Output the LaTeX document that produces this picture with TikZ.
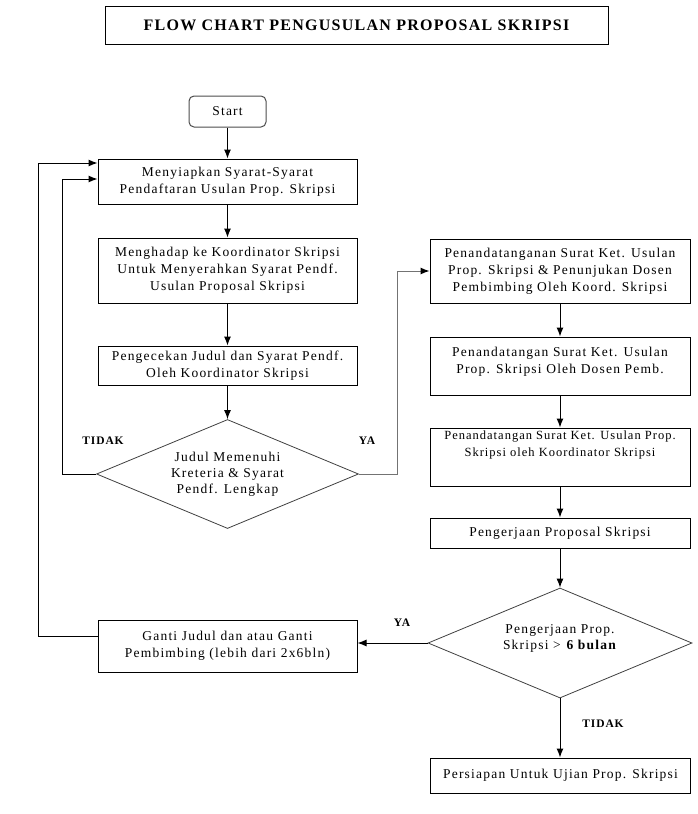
\documentclass[tikz,border=0pt]{standalone}
\usepackage{fontspec}
\setmainfont{Liberation Serif}
\newfontfamily\isifont[LetterSpace=9]{Liberation Serif}
\newfontfamily\kecilfont[LetterSpace=8]{Liberation Serif}
\newfontfamily\judulfont[LetterSpace=8]{Liberation Serif}
\usetikzlibrary{arrows.meta,calc,shapes.geometric}
\tikzset{
    >={Latex[length=9pt,width=7pt]},
    proses/.style={
        rectangle,
        draw=black, line width=1pt,
        minimum width=259,
        inner sep=0pt,
        align=center,
        font={\isifont\fontsize{13.5pt}{17pt}\selectfont}
    },
    keputusan/.style={
        diamond,
        aspect=2.4,
        draw=black!75, line width=0.8pt,
        inner sep=0pt,
        align=center,
        font={\isifont\fontsize{13.5pt}{16pt}\selectfont}
    },
    mulai/.style={
        rectangle,
        rounded corners=5pt,
        draw=black!70, line width=1pt,
        minimum width=77, minimum height=31,
        font={\isifont\fontsize{13.5pt}{17pt}\selectfont}
    },
    jalur/.style={draw, line width=1pt, ->},
    tandaya/.style={font={\judulfont\bfseries\fontsize{11.5pt}{13pt}\selectfont}},
}
\begin{document}
\begin{tikzpicture}[x=1pt, y=-1pt]
\useasboundingbox (0,0) rectangle (698,814);

% judul
\node [draw, line width=1pt, minimum width=503, minimum height=38,
  font={\judulfont\bfseries\fontsize{16pt}{18pt}\selectfont}] (judulbesar) at (356.5,25)
  {FLOW CHART PENGUSULAN PROPOSAL SKRIPSI};

% kolom kiri
\node [mulai] (start) at (227.5,111.5) {Start};
\node [proses, minimum height=45] (siap) at (227.5,181.5)
  {Menyiapkan Syarat-Syarat\\Pendaftaran Usulan Prop. Skripsi};
\node [proses, minimum height=65] (hadap) at (227.5,270.5)
  {Menghadap ke Koordinator Skripsi\\Untuk Menyerahkan Syarat Pendf.\\Usulan Proposal Skripsi};
\node [proses, minimum height=39] (cek) at (227.5,365.5)
  {Pengecekan Judul dan Syarat Pendf.\\Oleh Koordinator Skripsi};
\node [keputusan, minimum width=262, minimum height=109] (judul) at (227.5,474)
  {Judul Memenuhi\\Kreteria \& Syarat\\Pendf. Lengkap};
\node [proses, minimum height=52] (ganti) at (227.5,646)
  {Ganti Judul dan atau Ganti\\Pembimbing (lebih dari 2x6bln)};

% kolom kanan
\node [proses, minimum width=260, minimum height=64] (tanda1) at (560,271)
  {Penandatanganan Surat Ket. Usulan\\Prop. Skripsi \& Penunjukan Dosen\\Pembimbing Oleh Koord. Skripsi};
\node [proses, minimum width=260, minimum height=58, text depth=12pt] (tanda2) at (560,366)
  {Penandatangan Surat Ket. Usulan\\Prop. Skripsi Oleh Dosen Pemb.};
\node [proses, minimum width=260, minimum height=58, text depth=26pt,
  font={\kecilfont\fontsize{12.5pt}{17pt}\selectfont}] (tanda3) at (560,457)
  {Penandatangan Surat Ket. Usulan Prop.\\Skripsi oleh Koordinator Skripsi};
\node [proses, minimum width=260, minimum height=30] (kerja) at (560,533)
  {Pengerjaan Proposal Skripsi};
\node [keputusan, minimum width=264, minimum height=110, text depth=12pt] (lama) at (560,643)
  {Pengerjaan Prop.\\Skripsi > \textbf{6 bulan}};
\node [proses, minimum width=260, minimum height=35] (persiapan) at (560.5,775.5)
  {Persiapan Untuk Ujian Prop. Skripsi};

% label
\node [tandaya] (tidak1) at (103,441) {TIDAK};
\node [tandaya] (ya1) at (367,441) {YA};
\node [tandaya] (ya2) at (402,623) {YA};
\node [tandaya] (tidak2) at (603,724) {TIDAK};

% panah lurus
\foreach \a/\b in {start/siap, siap/hadap, hadap/cek, cek/judul,
                   tanda1/tanda2, tanda2/tanda3, tanda3/kerja,
                   kerja/lama, lama/persiapan}
  \draw [jalur] (\a.south) -- (\a.south |- \b.north);

% panah balik
\coordinate (kiri1) at (62,179);
\coordinate (kiri2) at (38,163);
\coordinate (kanan1) at (397,271);
\draw [jalur] (judul.west) -| (kiri1) -- (kiri1 -| siap.west);
\draw [jalur] ([yshift=10pt]ganti.west) -| (kiri2) -- (kiri2 -| siap.west);
\draw [jalur, draw=black!55, -{Latex[length=9pt,width=7pt,color=black]}]
  (judul.east) -| (kanan1) -- (tanda1.west);
\draw [jalur] (lama.west) -- (lama.west -| ganti.east);

\end{tikzpicture}
\end{document}
